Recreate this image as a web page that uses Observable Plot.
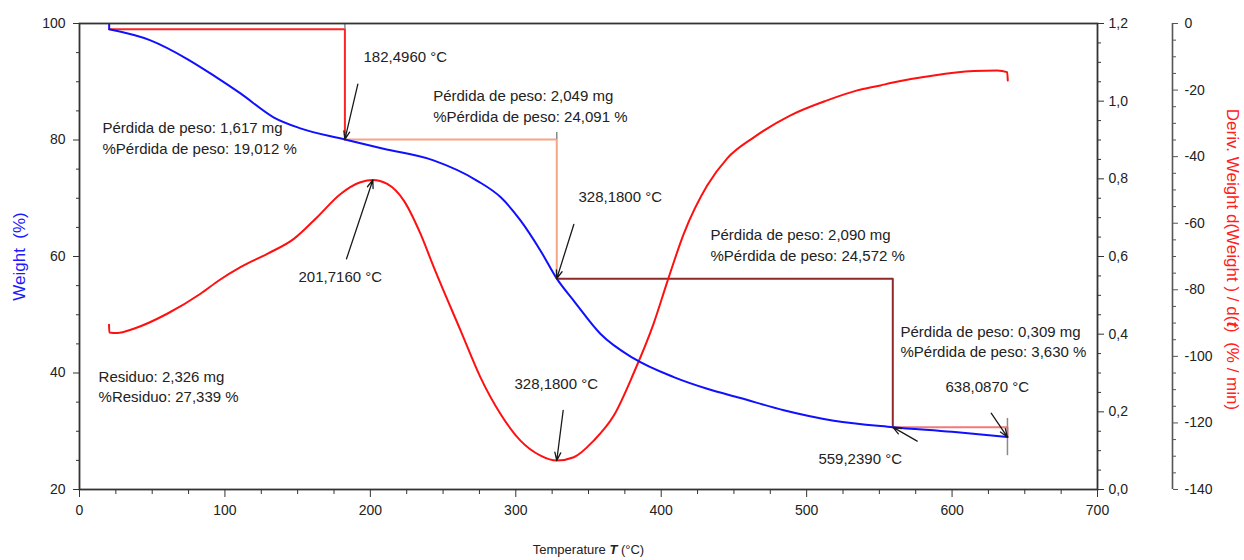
<!DOCTYPE html>
<html>
<head>
<meta charset="utf-8">
<script src="https://cdn.jsdelivr.net/npm/d3@7"></script>
<script src="https://cdn.jsdelivr.net/npm/@observablehq/plot@0.6"></script>
<style>
  html, body { margin: 0; padding: 0; background: #fff; }
  #chart svg { display: block; }
</style>
</head>
<body>
<div id="chart"></div>
<script>
// ---------- Data ----------
// TGA curve (Weight %)
const tgaTemp   = [20.4, 48.8, 74.1, 92.1, 110.7, 133.4, 151.9, 182.5, 209, 243.4, 273.5, 289.5, 303.2, 317, 328.2, 339.9, 358.3, 381.1, 408.6, 431.6, 454.5, 484.3, 518.7, 559.2, 600, 638.1];
const tgaWeight = [99.0, 97.1, 93.9, 91.1, 88.0, 83.9, 82.0, 80.1, 78.5, 76.5, 73.0, 70.2, 66.2, 61.0, 56.2, 52.4, 46.7, 42.5, 39.3, 37.3, 35.7, 33.6, 31.8, 30.7, 29.9, 29.0];
// initial vertical segment of the TGA trace
const tgaStartTemp = 20.4;
const tgaStartTop = 100.0;

// DTG curve (Deriv. Weight, % / min)
const dtgTemp  = [20.3, 20.5, 26, 37.3, 60.3, 83.2, 95.8, 110.7, 129.1, 147.4, 163.4, 179.5, 193.2, 201.7, 211.6, 223.0, 234.5, 243.6, 262.0, 275.7, 289.5, 303.2, 317.0, 328.2, 339.9, 353.6, 367.4, 381.1, 394.9, 404.1, 415.5, 431.6, 445.4, 463.7, 488.9, 514.1, 534.8, 550.8, 557.7, 587.4, 614.9, 631.0, 637.9, 638.3];
const dtgValue = [-90.5, -92.8, -93.0, -91.7, -87.2, -81.2, -77.2, -73.2, -69.2, -64.7, -58.2, -51.2, -47.7, -47.0, -48.2, -53.2, -63.2, -73.2, -92.2, -106.3, -117.3, -125.3, -129.8, -131.3, -130.3, -125.3, -117.8, -105.0, -90.0, -77.7, -63.2, -48.7, -40.5, -34.2, -27.6, -23.1, -20.1, -18.6, -17.9, -15.6, -14.3, -14.1, -14.6, -17.1];

// Weight-loss steps
const stepTemp   = [20.4, 182.496, 328.18, 559.239, 638.087];
const stepWeight = [99.0, 80.1, 56.2, 30.7, 29.0];
const stepColors = ["#ff2424", "#f7a585", "#8e2a2a", "#f27a7a"];

// grey markers above the step ends
const markTemp = [182.496, 328.18, 638.087];
const markTop  = [100.0, 81.3, 32.2];
const markBot  = [99.0, 80.1, 25.8];

// Annotation texts
const annLabels = [
  "182,4960 °C",
  "Pérdida de peso: 2,049 mg", "%Pérdida de peso: 24,091 %",
  "Pérdida de peso: 1,617 mg", "%Pérdida de peso: 19,012 %",
  "328,1800 °C",
  "201,7160 °C",
  "Pérdida de peso: 2,090 mg", "%Pérdida de peso: 24,572 %",
  "Pérdida de peso: 0,309 mg", "%Pérdida de peso: 3,630 %",
  "638,0870 °C",
  "559,2390 °C",
  "Residuo: 2,326 mg", "%Residuo: 27,339 %",
  "328,1800 °C"
];
const annTemp   = [195.3, 243.2, 243.2, 15.8, 15.8, 343.1, 150.6, 433.9, 433.9, 564.5, 564.5, 595.5, 508.1, 13.1, 13.1, 299.1];
const annWeight = [94.2, 87.6, 84.0, 82.0, 78.5, 70.1, 56.4, 63.6, 60.0, 47.0, 43.5, 37.5, 25.2, 39.3, 35.8, 38.1];

// Arrows: start (tail) and target (event) — target of DTG arrows given in DTG units
const arrowFromT = [191.4, 339.9, 183.6, 332.6, 626.9, 576.0];
const arrowFromW = [89.6, 65.5, 59.6, 33.6, 33.1, 28.3];
const arrowToT   = [182.496, 328.18, 201.716, 328.18, 638.087, 559.239];
const arrowToW   = [80.1, 56.2, null, null, 29.0, 30.7];
const arrowToDtg = [null, null, -47.0, -131.3, null, null];

// Axis ticks
const xMajor = [0, 100, 200, 300, 400, 500, 600, 700];
const xMinor = [25, 50, 75, 125, 150, 175, 225, 250, 275, 325, 350, 375, 425, 450, 475, 525, 550, 575, 625, 650, 675];
const yMajor = [20, 40, 60, 80, 100];
const yMinor = [25, 30, 35, 45, 50, 55, 65, 70, 75, 85, 90, 95];
const midMajor = [0, 0.2, 0.4, 0.6, 0.8, 1.0, 1.2];
const midMinor = [0.05, 0.1, 0.15, 0.25, 0.3, 0.35, 0.45, 0.5, 0.55, 0.65, 0.7, 0.75, 0.85, 0.9, 0.95, 1.05, 1.1, 1.15];
const dtgMajor = [0, -20, -40, -60, -80, -100, -120, -140];
const dtgMinor = [-5, -10, -15, -25, -30, -35, -45, -50, -55, -65, -70, -75, -85, -90, -95, -105, -110, -115, -125, -130, -135];

// ---------- Scale mappings for secondary axes ----------
const W_MIN = 20, W_MAX = 100;
const wFromDtg = v => W_MIN + (v + 140) / 140 * (W_MAX - W_MIN);
const wFromMid = m => W_MIN + m / 1.2 * (W_MAX - W_MIN);

// ---------- Tables ----------
const tga = tgaTemp.map((t, i) => ({T: t, W: tgaWeight[i]}));
const dtg = dtgTemp.map((t, i) => ({T: t, W: wFromDtg(dtgValue[i])}));
const steps = stepColors.map((c, i) => ({
  color: c,
  pts: [
    {T: stepTemp[i], W: stepWeight[i]},
    {T: stepTemp[i + 1], W: stepWeight[i]},
    {T: stepTemp[i + 1], W: stepWeight[i + 1]}
  ]
}));
const marks = markTemp.map((t, i) => ({T: t, W1: markTop[i], W2: markBot[i]}));
const ann = annLabels.map((l, i) => ({label: l, T: annTemp[i], W: annWeight[i]}));
const arrows = arrowFromT.map((t, i) => ({
  x1: t, y1: arrowFromW[i],
  x2: arrowToT[i],
  y2: arrowToW[i] != null ? arrowToW[i] : wFromDtg(arrowToDtg[i])
}));

const FONT = "'Liberation Sans', Arial, Helvetica, sans-serif";
const axisColor = "#333";
const fmtMid = d => d.toFixed(1).replace(".", ",");

const chart = Plot.plot({
  width: 1244,
  height: 560,
  marginLeft: 79,
  marginRight: 147,
  marginTop: 23,
  marginBottom: 71,
  style: {fontFamily: FONT, fontSize: "14px", background: "#fff", color: "#222"},
  x: {domain: [0, 700], label: null},
  y: {domain: [W_MIN, W_MAX], label: null},
  marks: [
    // step lines
    ...steps.map(s => Plot.line(s.pts, {x: "T", y: "W", stroke: s.color, strokeWidth: 2})),
    Plot.ruleX(marks, {x: "T", y1: "W1", y2: "W2", stroke: "#8a8a8a", strokeWidth: 1.5}),
    // curves
    Plot.line(dtg, {x: "T", y: "W", stroke: "#ff1010", strokeWidth: 2, curve: "monotone-x"}),
    Plot.ruleX([tgaStartTemp], {y1: tgaStartTop, y2: tgaWeight[0], stroke: "#1010ff", strokeWidth: 2}),
    Plot.line(tga, {x: "T", y: "W", stroke: "#1010ff", strokeWidth: 2, curve: "monotone-x"}),
    // arrows
    Plot.arrow(arrows, {x1: "x1", y1: "y1", x2: "x2", y2: "y2", stroke: "#1a1a1a", strokeWidth: 1.3, headLength: 10, headAngle: 40}),
    // annotations
    Plot.text(ann, {x: "T", y: "W", text: "label", textAnchor: "start", fontSize: 15, fill: "#222"}),
    // frame
    Plot.frame({stroke: axisColor, strokeWidth: 1.8}),
    // x axis
    Plot.axisX(xMajor, {tickSize: 8, tickPadding: 8, fontSize: 14, stroke: axisColor, fill: "#222", label: null, tickFormat: d => String(d)}),
    Plot.axisX(xMinor, {tickSize: 5, stroke: axisColor, tickFormat: () => "", label: null}),
    // left y axis (Weight %)
    Plot.axisY(yMajor, {anchor: "left", tickSize: 6, tickPadding: 8, fontSize: 14, stroke: axisColor, fill: "#222", label: null, tickFormat: d => String(d)}),
    Plot.axisY(yMinor, {anchor: "left", tickSize: 3, stroke: axisColor, tickFormat: () => "", label: null}),
    // middle right axis (0,0 – 1,2)
    Plot.axisY(midMajor, {anchor: "right", y: d => wFromMid(d), tickSize: 6, tickPadding: 5, fontSize: 14, stroke: axisColor, fill: "#222", label: null, tickFormat: fmtMid}),
    Plot.axisY(midMinor, {anchor: "right", y: d => wFromMid(d), tickSize: 3, stroke: axisColor, tickFormat: () => "", label: null}),
    // far right axis (Deriv. Weight)
    Plot.ruleX([700], {y1: W_MIN, y2: W_MAX, dx: 75, stroke: "#555", strokeWidth: 1.6}),
    Plot.axisY(dtgMajor, {anchor: "right", y: d => wFromDtg(d), dx: 75, tickSize: 5, tickPadding: 7, fontSize: 14, stroke: "#555", fill: "#222", label: null, tickFormat: d => String(d)}),
    Plot.axisY(dtgMinor, {anchor: "right", y: d => wFromDtg(d), dx: 75, tickSize: 3, stroke: "#555", tickFormat: () => "", label: null}),
    // axis titles
    Plot.text(["Temperature T (°C)"], {frameAnchor: "bottom", textAnchor: "middle", dy: 64, fontSize: 13, fill: "#222"}),
    Plot.text(["Weight\u00a0 (%)"], {frameAnchor: "left", textAnchor: "middle", rotate: -90, dx: -60, fontSize: 17, fill: "#1a1aff"}),
    Plot.text(["Deriv. Weight d(Weight ) / d(t) (% / min)"], {frameAnchor: "right", textAnchor: "middle", rotate: 90, dx: 135, dy: 3, fontSize: 17, fill: "#ff2020"})
  ]
});

document.getElementById("chart").appendChild(chart);

// Rich text for axis titles (italic/bold variables)
d3.select(chart).selectAll("text").each(function () {
  const t = this.textContent;
  const sel = d3.select(this);
  if (t === "Temperature T (°C)") {
    sel.text(null);
    sel.append("tspan").text("Temperature ");
    sel.append("tspan").attr("font-style", "italic").attr("font-weight", "bold").text("T");
    sel.append("tspan").text(" (°C)");
  } else if (t === "Deriv. Weight d(Weight ) / d(t) (% / min)") {
    sel.text(null);
    sel.append("tspan").text("Deriv. Weight d(Weight ) / d(");
    sel.append("tspan").attr("font-style", "italic").attr("font-weight", "bold").text("t");
    sel.append("tspan").text(")\u00a0 (% / min)");
  }
});
</script>
</body>
</html>
